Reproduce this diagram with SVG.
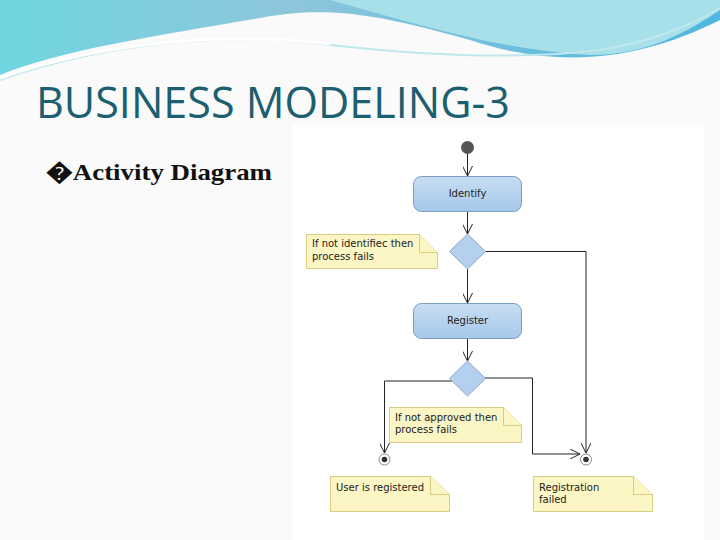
<svg xmlns="http://www.w3.org/2000/svg" width="720" height="540" viewBox="0 0 720 540">
<defs>
<linearGradient id="wave" x1="0" y1="0" x2="1" y2="0"><stop offset="0" stop-color="#6fd6e0"/><stop offset="0.4" stop-color="#8ec6dc"/><stop offset="1" stop-color="#4fb6e0"/></linearGradient>
<linearGradient id="act" x1="0" y1="0" x2="0" y2="1"><stop offset="0" stop-color="#c8ddf2"/><stop offset="1" stop-color="#a6c8ea"/></linearGradient>
<marker id="arr" viewBox="0 0 10 10" refX="10" refY="5" markerWidth="10" markerHeight="10" markerUnits="userSpaceOnUse" orient="auto"><path d="M0,0 L10,5 L0,10" fill="none" stroke="#222" stroke-width="1"/></marker>
</defs>
<style>
.act{fill:url(#act);stroke:#7a9cc0;stroke-width:1}
.dec{fill:#b4d0ee;stroke:#8aaccd;stroke-width:1}
.note{fill:#fbf6c4;stroke:#d8cc80;stroke-width:1}
.t{font-family:"DejaVu Sans",sans-serif;font-size:10px;fill:#222}
.c{fill:none;stroke:#222;stroke-width:1}
</style>
<rect width="720" height="540" fill="#fafafa"/>
<path d="M0,0 H720 V20 C640,60 560,70 470,40 C380,15 330,5 260,18 C160,35 60,50 0,75 Z" fill="url(#wave)"/>
<path d="M330,0 C420,25 500,50 590,55 C650,55 690,30 720,10 V0 Z" fill="#a8e0ea"/>
<path d="M0,80 C100,45 220,30 330,45 C420,55 520,60 600,50 C660,40 700,20 720,8" fill="none" stroke="#bfe8ee" stroke-width="2"/>
<path d="M0,78 C110,40 230,32 330,44" fill="none" stroke="#ffffff" stroke-width="3"/>
<text x="36" y="118" font-family="Open Sans, sans-serif" font-size="43" fill="#1b5f70" textLength="474" lengthAdjust="spacingAndGlyphs">BUSINESS MODELING-3</text>
<text x="46" y="180" font-family="Liberation Serif, serif" font-weight="bold" font-size="24" fill="#111" textLength="226" lengthAdjust="spacingAndGlyphs">�Activity Diagram</text>
<rect x="292" y="125" width="412" height="415" fill="#ffffff"/>
<g id="connectors">
<line class="c" x1="467.5" y1="153" x2="467.5" y2="176" marker-end="url(#arr)"/>
<line class="c" x1="467.5" y1="211" x2="467.5" y2="234" marker-end="url(#arr)"/>
<line class="c" x1="467.5" y1="269" x2="467.5" y2="303" marker-end="url(#arr)"/>
<line class="c" x1="467.5" y1="339" x2="467.5" y2="361" marker-end="url(#arr)"/>
<polyline class="c" points="485.5,251.5 586,251.5 586,453" marker-end="url(#arr)"/>
<polyline class="c" points="452,381 384.5,381 384.5,453" marker-end="url(#arr)"/>
<polyline class="c" points="485,378 532.5,378 532.5,454 580,454" marker-end="url(#arr)"/>
</g>
<g id="start"><circle cx="467.5" cy="147.5" r="6.5" fill="#555"/></g>
<g id="identify"><rect class="act" x="413.5" y="176.5" width="108" height="35" rx="8"/><text class="t" x="467.5" y="197" text-anchor="middle">Identify</text></g>
<g id="decision1"><polygon class="dec" points="467.5,234 485.5,251.5 467.5,269 449.5,251.5"/></g>
<g id="note1"><path class="note" d="M306.5,234.5 H419.5 L437.5,252.5 V268.5 H306.5 Z"/><path class="note" d="M419.5,234.5 V252.5 H437.5" fill="none"/><text class="t" x="312" y="247">If not identifiec then</text><text class="t" x="312" y="260">process fails</text></g>
<g id="register"><rect class="act" x="413.5" y="303.5" width="108" height="35" rx="8"/><text class="t" x="467.5" y="324" text-anchor="middle">Register</text></g>
<g id="decision2"><polygon class="dec" points="467.5,361 485.5,378.5 467.5,396 449.5,378.5"/></g>
<g id="note2"><path class="note" d="M389.5,407.5 H503.5 L521.5,425.5 V442.5 H389.5 Z"/><path class="note" d="M503.5,407.5 V425.5 H521.5" fill="none"/><text class="t" x="395" y="421">If not approved then</text><text class="t" x="395" y="433">process fails</text></g>
<g id="final1"><circle cx="384.5" cy="459.5" r="5.5" fill="#fff" stroke="#888"/><circle cx="384.5" cy="459.5" r="2.8" fill="#333"/></g>
<g id="final2"><circle cx="586" cy="459.5" r="5.5" fill="#fff" stroke="#888"/><circle cx="586" cy="459.5" r="2.8" fill="#333"/></g>
<g id="note3"><path class="note" d="M330.5,476.5 H430.5 L449.5,494.5 V511.5 H330.5 Z"/><path class="note" d="M430.5,476.5 V494.5 H449.5" fill="none"/><text class="t" x="336" y="491">User is registered</text></g>
<g id="note4"><path class="note" d="M533.5,476.5 H633.5 L652.5,494.5 V511.5 H533.5 Z"/><path class="note" d="M633.5,476.5 V494.5 H652.5" fill="none"/><text class="t" x="539" y="491">Registration</text><text class="t" x="539" y="503">failed</text></g>
</svg>
